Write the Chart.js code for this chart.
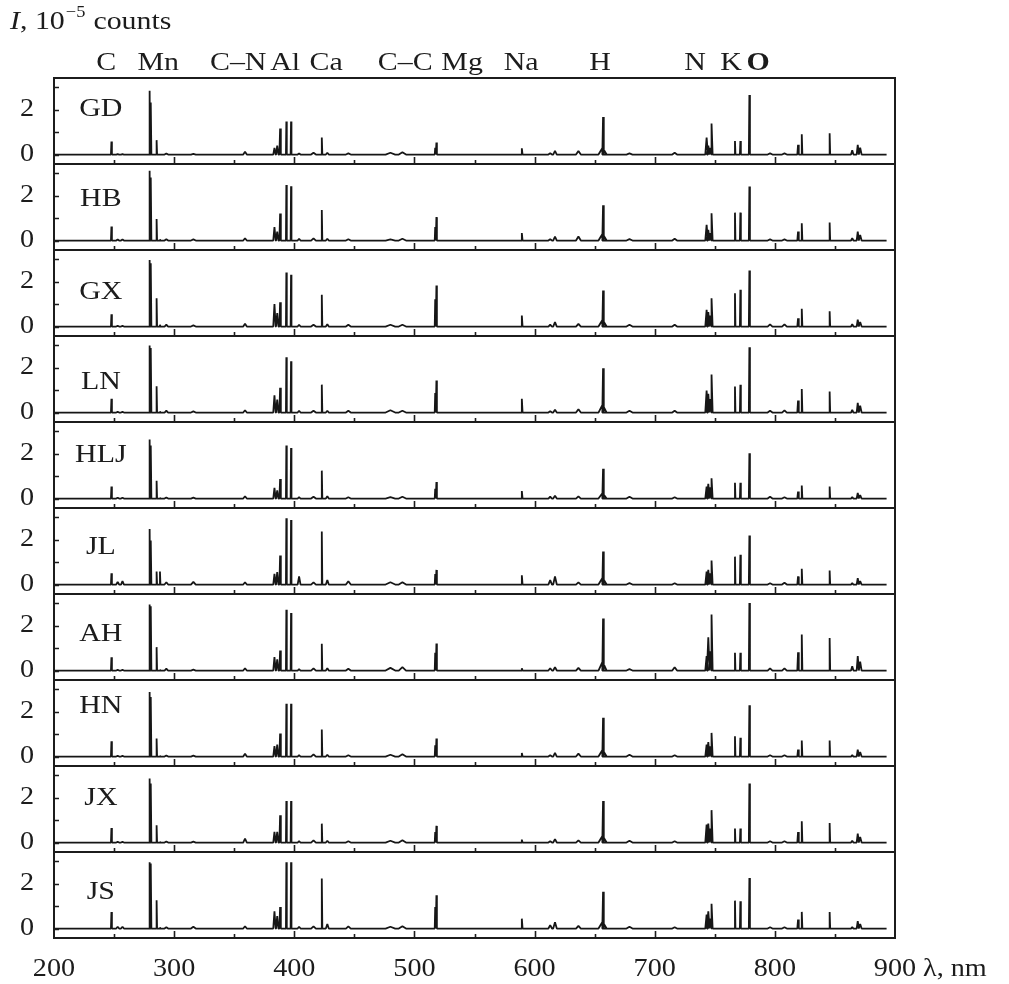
<!DOCTYPE html>
<html>
<head>
<meta charset="utf-8">
<script src="https://cdn.jsdelivr.net/npm/chart.js@4.4.1/dist/chart.umd.min.js"></script>
<style>
  html, body { margin: 0; padding: 0; background: #fff; }
  #wrap { position: relative; width: 1009px; height: 984px; }
</style>
</head>
<body>
<div id="wrap"><canvas id="c" width="1009" height="984"></canvas></div>
<script>
// ============ DATA ============
const panelNames = ['GD', 'HB', 'GX', 'LN', 'HLJ', 'JL', 'AH', 'HN', 'JX', 'JS'];

// emission lines / bands, nm; 656.6 is the broad foot of H
const lineNm = [
  247.8, 253.0, 257.0, 279.6, 280.7, 285.4, 288.2, 293.5, 316.0, 359.0,
  383.5, 385.8, 388.2, 393.4, 397.3, 404.0, 416.0, 422.9, 427.5, 445.0,
  480.0, 490.0, 517.3, 518.3, 589.4, 613.0, 617.0, 636.5, 656.6, 657.0,
  679.0, 716.6, 743.2, 744.6, 746.3, 747.6, 766.8, 771.3, 778.8, 796.0,
  808.0, 819.3, 822.4, 845.6, 864.4, 869.0, 871.0
];
// half width of each line at its foot, nm
const lineHalfWidthNm = [
  0.4, 1.2, 1.2, 0.35, 0.35, 0.4, 0.4, 1.5, 2.0, 1.5,
  1.0, 1.0, 0.6, 0.35, 0.35, 1.2, 2.0, 0.45, 1.2, 2.0,
  4.0, 3.0, 0.4, 0.4, 0.6, 1.5, 1.5, 2.0, 3.4, 0.6,
  2.5, 2.0, 1.1, 1.1, 1.1, 0.6, 0.4, 0.4, 0.45, 2.0,
  2.0, 0.6, 0.5, 0.45, 1.0, 0.9, 1.2
];

// peak intensities, 10^5 counts, one list per sample
const heightsGD  = [0.58,0.02,0.02,2.83,2.31,0.64,0.00,0.05,0.03,0.12, 0.30,0.40,1.16,1.47,1.47,0.05,0.08,0.76,0.08,0.05, 0.08,0.10,0.30,0.53,0.28,0.06,0.16,0.16,0.30,1.67, 0.05,0.08,0.75,0.40,0.30,1.38,0.60,0.60,2.64,0.05, 0.05,0.43,0.90,0.95,0.19,0.43,0.30];
const heightsHB  = [0.62,0.05,0.05,3.10,2.80,0.96,0.05,0.06,0.05,0.10, 0.60,0.40,1.20,2.47,2.41,0.08,0.10,1.36,0.08,0.06, 0.05,0.08,0.60,1.04,0.33,0.06,0.18,0.18,0.30,1.57, 0.06,0.08,0.70,0.47,0.33,1.21,1.24,1.24,2.40,0.05, 0.05,0.40,0.77,0.80,0.10,0.40,0.25];
const heightsGX  = [0.55,0.03,0.03,2.96,2.81,1.26,0.08,0.08,0.05,0.12, 1.00,0.60,1.08,2.40,2.30,0.08,0.08,1.41,0.10,0.08, 0.08,0.08,1.21,1.82,0.49,0.08,0.20,0.12,0.30,1.60, 0.08,0.08,0.74,0.64,0.49,1.26,1.48,1.63,2.49,0.10, 0.10,0.37,0.79,0.68,0.10,0.31,0.20];
const heightsLN  = [0.61,0.03,0.03,2.98,2.87,1.17,0.05,0.08,0.05,0.10, 0.76,0.58,1.10,2.46,2.28,0.08,0.08,1.24,0.08,0.08, 0.10,0.08,0.87,1.42,0.61,0.06,0.12,0.15,0.35,1.97, 0.08,0.08,0.98,0.83,0.60,1.69,1.16,1.23,2.90,0.08, 0.10,0.53,1.05,0.93,0.12,0.43,0.30];
const heightsHLJ = [0.53,0.04,0.04,2.62,2.36,0.79,0.03,0.05,0.04,0.10, 0.47,0.36,0.87,2.36,2.24,0.06,0.08,1.24,0.10,0.06, 0.06,0.08,0.43,0.73,0.33,0.08,0.12,0.10,0.25,1.32, 0.08,0.06,0.53,0.65,0.50,0.90,0.70,0.70,2.01,0.08, 0.06,0.31,0.58,0.53,0.06,0.25,0.15];
const heightsJL  = [0.50,0.12,0.15,2.47,1.96,0.58,0.58,0.10,0.12,0.10, 0.47,0.55,1.29,2.95,2.87,0.36,0.10,2.36,0.20,0.15, 0.10,0.10,0.47,0.65,0.41,0.20,0.36,0.10,0.30,1.47, 0.06,0.06,0.58,0.65,0.50,1.07,1.24,1.32,2.18,0.06, 0.08,0.36,0.70,0.62,0.06,0.28,0.15];
const heightsAH  = [0.59,0.03,0.03,2.93,2.86,1.04,0.04,0.08,0.04,0.10, 0.60,0.50,0.89,2.70,2.56,0.06,0.10,1.19,0.10,0.08, 0.12,0.15,0.79,1.20,0.10,0.10,0.15,0.12,0.40,2.31, 0.06,0.15,0.64,1.48,0.86,2.49,0.79,0.79,3.00,0.10, 0.10,0.81,1.60,1.45,0.19,0.64,0.40];
const heightsHN  = [0.68,0.03,0.03,2.87,2.64,0.80,0.03,0.05,0.04,0.12, 0.46,0.53,1.02,2.34,2.34,0.06,0.10,1.20,0.08,0.06, 0.08,0.10,0.50,0.80,0.16,0.06,0.16,0.13,0.30,1.72, 0.08,0.06,0.53,0.64,0.46,1.05,0.90,0.83,2.28,0.06, 0.06,0.31,0.71,0.71,0.06,0.31,0.20];
const heightsJX  = [0.65,0.03,0.03,2.84,2.62,0.77,0.03,0.05,0.04,0.18, 0.47,0.47,1.21,1.84,1.84,0.06,0.10,0.84,0.08,0.06, 0.08,0.10,0.47,0.74,0.13,0.06,0.15,0.10,0.30,1.84, 0.08,0.06,0.80,0.84,0.62,1.44,0.62,0.62,2.62,0.06, 0.06,0.47,0.95,0.87,0.08,0.40,0.25];
const heightsJS  = [0.73,0.08,0.08,2.95,2.89,1.26,0.05,0.06,0.08,0.10, 0.77,0.55,0.96,2.95,2.95,0.08,0.10,2.22,0.20,0.10, 0.08,0.10,0.96,1.48,0.44,0.15,0.28,0.12,0.30,1.63, 0.08,0.06,0.62,0.77,0.44,1.10,1.24,1.21,2.25,0.06, 0.06,0.40,0.74,0.73,0.06,0.33,0.20];
const panelHeights = [heightsGD, heightsHB, heightsGX, heightsLN, heightsHLJ, heightsJL, heightsAH, heightsHN, heightsJX, heightsJS];

// spectrum ends, nm
const spectrumStartNm = 200;
const spectrumEndNm = 893;

// level (in panel units) at which each sample name sits
const nameLevel = [2.1, 1.9, 1.6, 1.45, 2.0, 1.75, 1.7, 2.3, 2.05, 1.7];
const nameNm = 239;

// element labels over the top panel
const elementNames = ['C', 'Mn', 'C\u2013N', 'Al', 'Ca', 'C\u2013C', 'Mg', 'Na', 'H', 'N', 'K', 'O'];
const elementNm = [243.5, 286.8, 353.3, 392.4, 426.5, 492.3, 539.7, 588.8, 654.5, 733.6, 763.6, 786.0];

// ticks
const xTickLabels = [200, 300, 400, 500, 600, 700, 800, 900];
const xTickMarks = [250, 300, 350, 400, 450, 500, 550, 600, 650, 700, 750, 800, 850];
const yTickLabels = [0, 2];
const yTickMarks = [0, 1, 2, 3];

// ============ CHART ============
const SERIF = '"Liberation Serif", "Times New Roman", serif';
const STRETCH = 1.15;   // the scanned figure is a bit wider than tall

function spectrum(h) {
  const pts = [{x: spectrumStartNm, y: 0}];
  lineNm.forEach((nm, i) => {
    const w = lineHalfWidthNm[i];
    pts.push({x: nm - w, y: 0}, {x: nm, y: h[i]}, {x: nm + w, y: 0});
  });
  pts.push({x: spectrumEndNm, y: 0});
  return pts;
}

function txt(ctx, s, x, y, size, align, style) {
  ctx.save();
  ctx.font = (style || '') + ' ' + size + 'px ' + SERIF;
  ctx.textAlign = align || 'left';
  ctx.textBaseline = 'alphabetic';
  ctx.translate(x, y);
  ctx.scale(STRETCH, 1);
  ctx.fillText(s, 0, 0);
  const w = ctx.measureText(s).width * STRETCH;
  ctx.restore();
  return w;
}

const scales = {
  x: {
    type: 'linear', position: 'bottom', min: 200, max: 900,
    ticks: {display: false, stepSize: 100},
    grid: {display: false}, border: {display: false},
    afterFit: s => { s.height = 46; s.paddingLeft = 0; s.paddingRight = 0; }
  }
};
// left boxes are stacked last-defined on top, so add them bottom panel first
for (let i = panelNames.length - 1; i >= 0; i--) {
  scales['y' + i] = {
    type: 'linear', position: 'left', stack: 'spectra', stackWeight: 1,
    min: -0.42, max: 3.4,
    ticks: {display: false, stepSize: 1, includeBounds: false},
    grid: {display: false}, border: {display: false},
    afterFit: s => { s.width = 54; s.paddingTop = 0; s.paddingBottom = 0; }
  };
}

const framePlugin = {
  id: 'frame',
  afterDatasetsDraw(chart) {
    const ctx = chart.ctx;
    const x = chart.scales.x;
    ctx.save();
    ctx.strokeStyle = '#1c1c1c';
    ctx.fillStyle = '#1c1c1c';
    panelNames.forEach((name, i) => {
      const y = chart.scales['y' + i];
      ctx.lineWidth = 2;
      ctx.strokeRect(x.left, y.top, x.right - x.left, y.bottom - y.top);
      ctx.lineWidth = 1.6;
      ctx.beginPath();
      xTickMarks.forEach(nm => {
        const px = Math.round(x.getPixelForValue(nm)) + 0.5;
        ctx.moveTo(px, y.bottom);
        ctx.lineTo(px, y.bottom - (nm % 100 === 0 ? 7 : 4));
      });
      yTickMarks.forEach(v => {
        const py = Math.round(y.getPixelForValue(v)) + 0.5;
        ctx.moveTo(x.left, py);
        ctx.lineTo(x.left + 5, py);
      });
      ctx.stroke();
      yTickLabels.forEach(v => {
        txt(ctx, String(v), 34, y.getPixelForValue(v) + 6, 24.5, 'right');
      });
      txt(ctx, name, x.getPixelForValue(nameNm), y.getPixelForValue(nameLevel[i]) + 8.6, 26, 'center');
    });
    xTickLabels.forEach(v => {
      txt(ctx, String(v), x.getPixelForValue(v), 976, 24.5, 'center');
    });
    txt(ctx, '\u03bb, nm', 923, 976, 24.5, 'left');
    elementNames.forEach((el, i) => {
      txt(ctx, el, x.getPixelForValue(elementNm[i]), 70, 26, 'center', el === 'O' ? 'bold' : '');
    });
    // axis title: I, 10^-5 counts
    let cx = 10;
    cx += txt(ctx, 'I', cx, 29, 26, 'left', 'italic');
    cx += txt(ctx, ', 10', cx, 29, 26, 'left');
    cx += txt(ctx, '\u22125', cx + 1, 17, 16, 'left') + 9;
    txt(ctx, 'counts', cx, 29, 26, 'left');
    ctx.restore();
  }
};

new Chart(document.getElementById('c'), {
  type: 'line',
  data: {
    datasets: panelNames.map((name, i) => ({
      label: name,
      data: spectrum(panelHeights[i]),
      yAxisID: 'y' + i,
      borderColor: '#161616',
      borderWidth: 1.8,
      borderJoinStyle: 'bevel',
      pointRadius: 0,
      tension: 0,
      fill: false
    }))
  },
  options: {
    responsive: false,
    devicePixelRatio: 1,
    animation: false,
    parsing: false,
    layout: {padding: {top: 78, right: 114, bottom: 0, left: 0}},
    plugins: {legend: {display: false}, tooltip: {enabled: false}},
    scales: scales
  },
  plugins: [framePlugin]
});
</script>
</body>
</html>
